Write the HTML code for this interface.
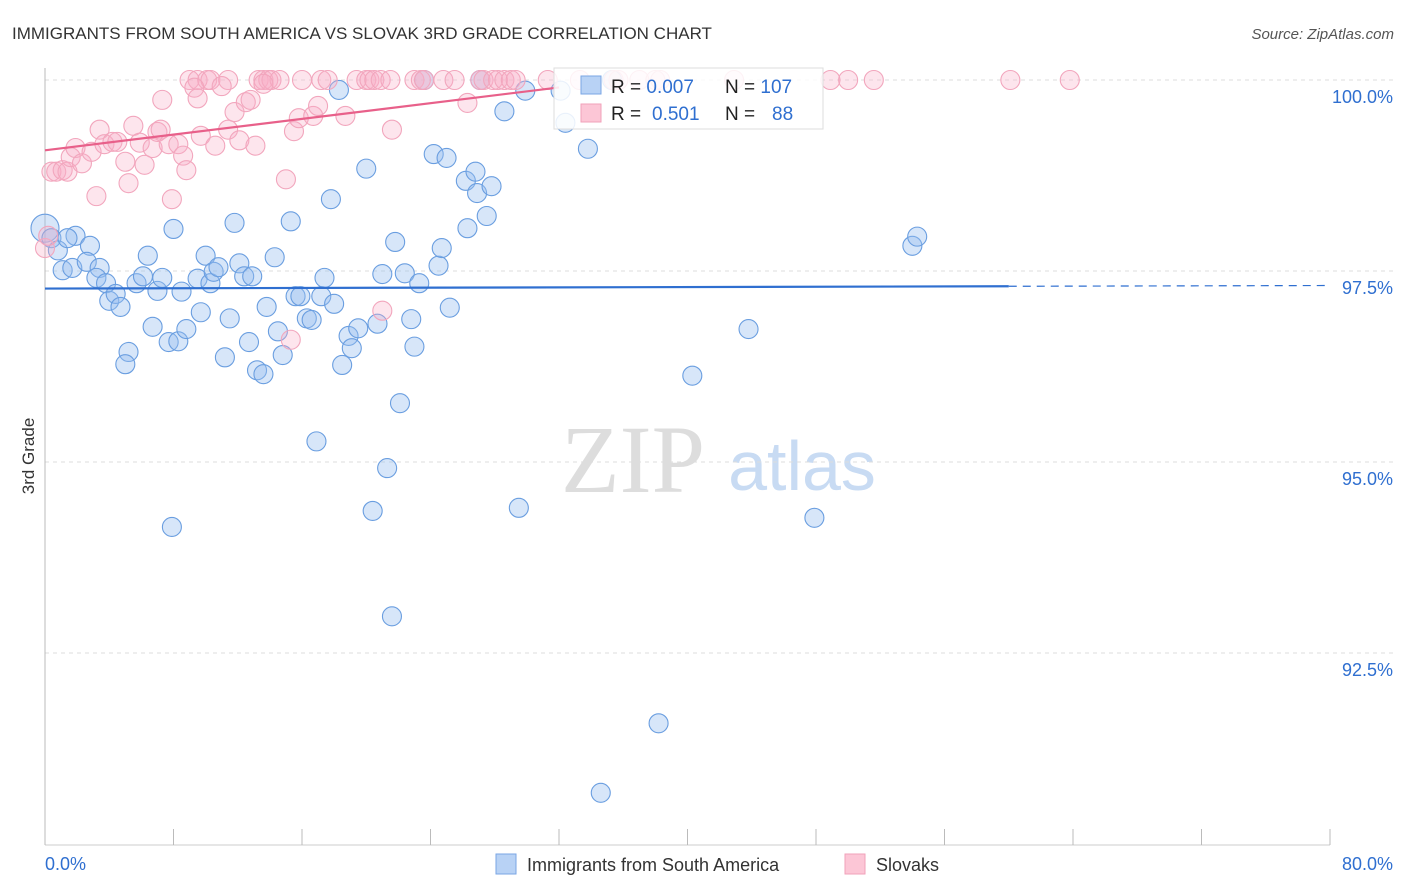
<!DOCTYPE html>
<html><head><meta charset="utf-8"><style>
body{margin:0;background:#fff;font-family:"Liberation Sans",sans-serif}
svg{display:block}
</style></head><body>
<svg id="chart" width="1406" height="892">
<text x="12" y="39" font-size="17" fill="#333">IMMIGRANTS FROM SOUTH AMERICA VS SLOVAK 3RD GRADE CORRELATION CHART</text>
<text x="1394" y="39" font-size="15" fill="#555" font-style="italic" text-anchor="end">Source: ZipAtlas.com</text>
<text transform="translate(34,456) rotate(-90)" font-size="17" fill="#333" text-anchor="middle">3rd Grade</text>
<g>
<text x="633" y="492" font-size="96" font-family="Liberation Serif,serif" fill="#ddd" text-anchor="middle">ZIP</text>
<text x="802" y="490" font-size="70" fill="#c8dbf3" text-anchor="middle">atlas</text>
</g>
<g id="grid"></g><g id="axes"></g><g id="pts"></g><g id="trends"></g>
<g>
<rect x="554" y="68" width="269" height="61" fill="#fff" fill-opacity="0.85" stroke="#ddd"/>
<rect x="581" y="76" width="20" height="18" fill="#b8d2f5" stroke="#7aa6e4"/>
<rect x="581" y="104" width="20" height="18" fill="#fcc6d6" stroke="#f1a1ba"/>
<text x="611" y="93" font-size="19" fill="#222">R = <tspan fill="#2f6fd0">0.007</tspan><tspan x="725">N = </tspan><tspan fill="#2f6fd0">107</tspan></text>
<text x="611" y="120" font-size="19" fill="#222">R = <tspan x="652" fill="#2f6fd0">0.501</tspan><tspan x="725">N = </tspan><tspan x="772" fill="#2f6fd0">88</tspan></text>
</g>
<g>
<rect x="496" y="854" width="20" height="20" fill="#b8d2f5" stroke="#7aa6e4"/>
<text x="527" y="871" font-size="18" fill="#333">Immigrants from South America</text>
<rect x="845" y="854" width="20" height="20" fill="#fcc6d6" stroke="#f1a1ba"/>
<text x="876" y="871" font-size="18" fill="#333">Slovaks</text>
</g>
</svg>
<script>
const yTicks=[100,97.5,95,92.5];
const yTickLabels=["100.0%","97.5%","95.0%","92.5%"];
const xEndLabels=["0.0%","80.0%"];
const blueX=[0,0.4,0.8,1.1,1.7,1.9,1.4,2.8,2.6,3.4,3.2,3.8,4.0,4.4,4.7,5.2,5.0,5.7,6.1,6.4,6.7,7.0,7.3,7.7,8.0,8.3,8.5,8.8,9.5,9.7,10.0,10.3,10.5,10.8,11.2,11.5,11.8,12.1,12.4,12.7,12.9,13.2,13.6,13.8,14.3,14.5,14.8,15.3,15.6,15.9,16.3,16.6,16.9,17.2,17.4,18.0,18.3,18.5,18.9,19.1,19.5,20.0,20.4,20.7,21.0,21.3,21.6,21.8,22.1,22.4,22.8,23.0,23.3,23.6,24.2,24.5,24.7,25.0,25.2,26.2,26.3,26.8,26.9,27.1,27.5,27.8,28.6,29.5,29.9,32.1,32.4,33.8,35.3,38.2,40.3,43.8,47.9,54.0,54.3,34.6,7.9,17.8];
const blueY=[98.06,97.93,97.77,97.51,97.54,97.96,97.93,97.83,97.62,97.54,97.41,97.34,97.11,97.20,97.03,96.44,96.28,97.34,97.43,97.70,96.77,97.24,97.41,96.57,98.05,96.58,97.23,96.74,97.40,96.96,97.70,97.34,97.49,97.55,96.37,96.88,98.13,97.60,97.43,96.57,97.43,96.20,96.15,97.03,97.68,96.71,96.40,98.15,97.17,97.17,96.88,96.86,95.27,97.17,97.41,97.07,99.87,96.27,96.65,96.49,96.75,98.84,94.36,96.81,97.46,94.92,92.98,97.88,95.77,97.47,96.87,96.51,97.34,100.0,99.03,97.57,97.80,98.98,97.02,98.68,98.06,98.80,98.52,100.0,98.22,98.61,99.59,94.40,99.86,99.86,99.44,99.10,100.0,91.58,96.13,96.74,94.27,97.83,97.95,90.67,94.15,98.44];
const pinkX=[9.0,9.5,10.1,10.3,11.4,13.3,13.6,13.9,14.1,14.6,16.0,17.2,17.6,19.4,20.0,20.2,20.5,20.9,21.5,23.0,23.4,23.6,24.8,25.5,27.1,27.3,27.9,28.2,28.6,29.0,29.3,31.3,33.3,35.4,35.7,37.0,38.0,38.3,42.9,48.9,50.0,51.6,60.1,63.8,
0.4,0.7,1.1,1.4,1.6,1.9,2.3,2.9,3.2,3.4,3.7,4.2,4.5,5.2,5.0,5.5,5.9,6.2,6.7,7.0,7.2,7.7,7.9,8.3,8.6,8.8,7.3,9.3,9.5,9.7,10.6,11.0,11.4,11.8,12.1,12.5,12.8,13.1,13.6,15.0,15.5,15.8,16.7,17.0,18.7,21.6,26.3,21.0,15.3,0.0,0.2];
const pinkY=[100,100,100,100,100,100,100,100,100,100,100,100,100,100,100,100,100,100,100,100,100,100,100,100,100,100,100,100,100,100,100,100,100,100,100,100,100,100,100,100,100,100,100,100,
98.80,98.80,98.82,98.80,98.99,99.11,98.91,99.06,98.48,99.35,99.16,99.19,99.19,98.65,98.93,99.40,99.18,98.89,99.11,99.32,99.35,99.16,98.44,99.16,99.01,98.82,99.74,99.90,99.76,99.27,99.14,99.92,99.35,99.58,99.21,99.71,99.74,99.14,99.95,98.70,99.33,99.50,99.53,99.66,99.53,99.35,99.70,96.98,96.60,97.80,97.96];
const blueTrend=[97.27,0.0005];
const pinkTrend=[99.08,0.0257];

const NS="http://www.w3.org/2000/svg";
const X0=45,X1=1330,Y100=80,PX_PER=76.4;
const sx=v=>X0+(v/80)*(X1-X0);
const sy=v=>Y100+(100-v)*PX_PER;
function mk(tag,attrs,parent){const e=document.createElementNS(NS,tag);for(const k in attrs)e.setAttribute(k,attrs[k]);parent.appendChild(e);return e;}
const grid=document.getElementById('grid'),axes=document.getElementById('axes'),pts=document.getElementById('pts'),tr=document.getElementById('trends');
yTicks.forEach((t,i)=>{
 const l=mk('line',{x1:X0,x2:1394,y1:sy(t),y2:sy(t),stroke:'#ddd','stroke-dasharray':'4,4'},grid);
 
 
 const tx=mk('text',{x:1393,y:sy(t)+23,'font-size':18,fill:'#2f6fd0','text-anchor':'end'},grid);
 tx.textContent=yTickLabels[i];
 
 
});
const ya=mk('line',{x1:X0,x2:X0,y1:68,y2:845,stroke:'#bbb'},axes);


const xa=mk('line',{x1:X0,x2:X1,y1:845,y2:845,stroke:'#ccc'},axes);


for(let i=0;i<=10;i++){const t=mk('line',{x1:sx(i*8),x2:sx(i*8),y1:829,y2:845,stroke:'#bbb'},axes);
 
 }
const xl0=mk('text',{x:45,y:870,'font-size':18,fill:'#2f6fd0'},axes);xl0.textContent=xEndLabels[0];


const xl1=mk('text',{x:1393,y:870,'font-size':18,fill:'#2f6fd0','text-anchor':'end'},axes);xl1.textContent=xEndLabels[1];


blueX.forEach((v,i)=>{const c=mk('circle',{cx:sx(v),cy:sy(blueY[i]),r:i===0?14:9.5,fill:'rgba(150,190,240,0.38)',stroke:'#6a9ee0','stroke-width':1.1},pts);
 
 });
pinkX.forEach((v,i)=>{const c=mk('circle',{cx:sx(v),cy:sy(pinkY[i]),r:9.5,fill:'rgba(248,175,198,0.32)',stroke:'#f2a6bd','stroke-width':1.1},pts);
 
 });
const bl=mk('line',{x1:sx(0),y1:sy(blueTrend[0]),x2:sx(60),y2:sy(blueTrend[0]+blueTrend[1]*60),stroke:'#2f6fd0','stroke-width':2.2},tr);


const bd=mk('line',{x1:sx(60),y1:sy(blueTrend[0]+blueTrend[1]*60),x2:sx(80),y2:sy(blueTrend[0]+blueTrend[1]*80),stroke:'#2f6fd0','stroke-width':1.2,'stroke-dasharray':'8,6'},tr);


const pl=mk('line',{x1:sx(0),y1:sy(pinkTrend[0]),x2:sx(32),y2:sy(pinkTrend[0]+pinkTrend[1]*32),stroke:'#e8608a','stroke-width':2.2},tr);


</script>
</body></html>
